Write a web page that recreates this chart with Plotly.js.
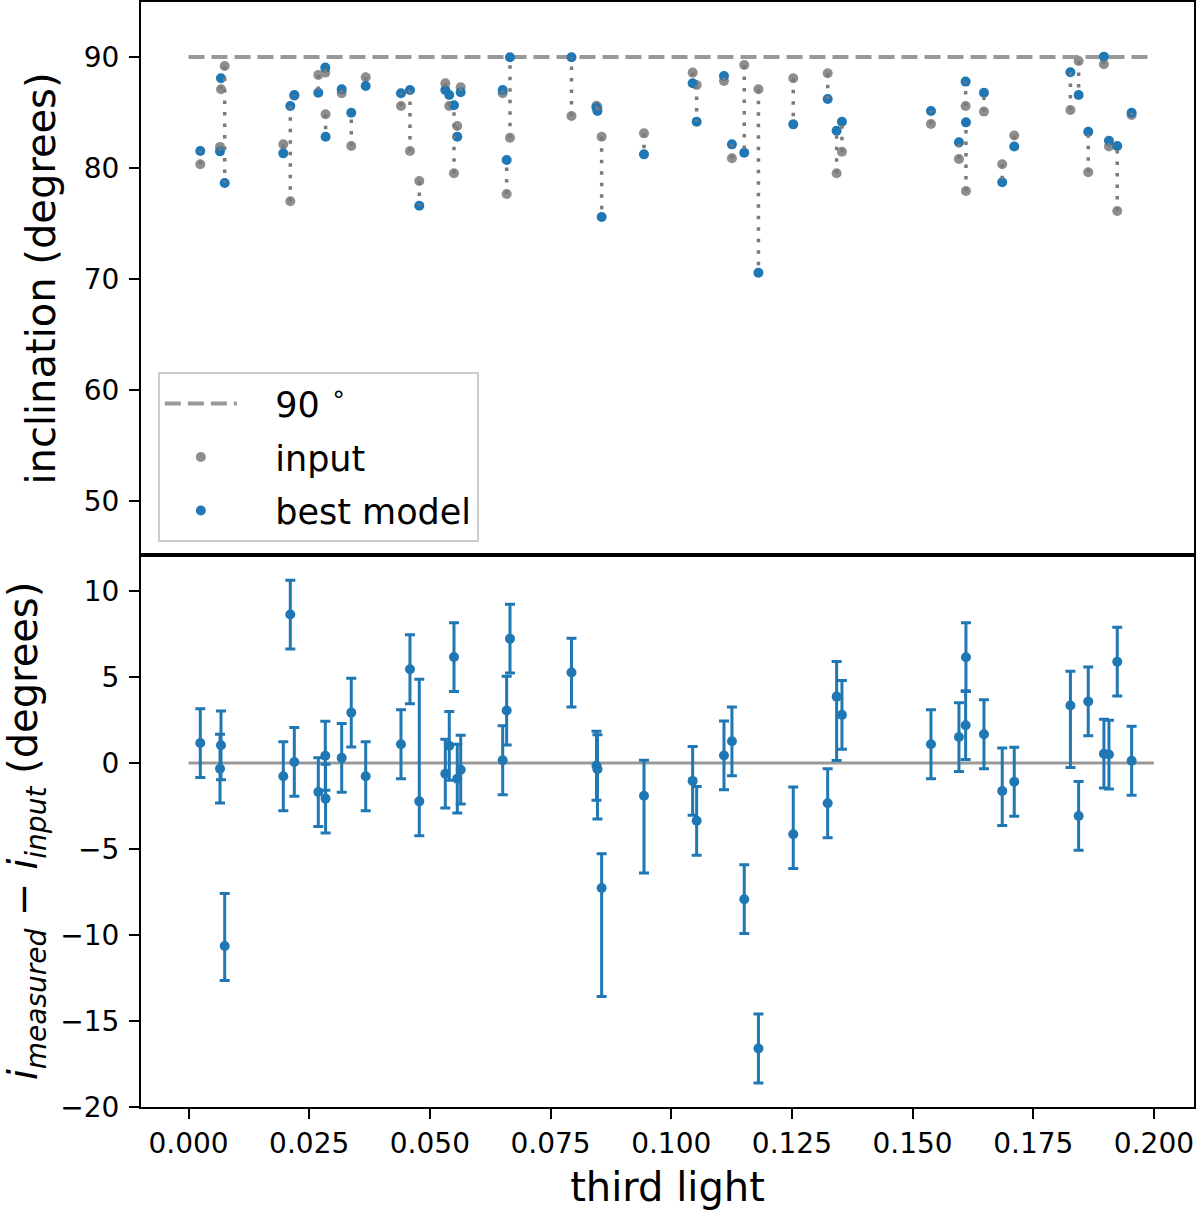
<!DOCTYPE html>
<html>
<head>
<meta charset="utf-8">
<script src="https://cdn.plot.ly/plotly-3.0.1.min.js"></script>
<style>
  html, body { margin: 0; padding: 0; background: #fff; }
  #incl { width: 1200px; height: 1210px; }
</style>
</head>
<body>
<div id="incl"></div>
<script>
/***** third light vs inclination *****/
var thirdLight = [0.00244, 0.00653, 0.00673, 0.00750, 0.01964, 0.02109, 0.02192, 0.02689, 0.02834, 0.02840,
  0.03174, 0.03372, 0.03671, 0.04402, 0.04588, 0.04781, 0.05320, 0.05402, 0.05500, 0.05568,
  0.05639, 0.06509, 0.06591, 0.06660, 0.07934, 0.08452, 0.08472, 0.08559, 0.09436, 0.10444,
  0.10527, 0.11093, 0.11258, 0.11513, 0.11807, 0.12528, 0.13241, 0.13427, 0.13537, 0.15381,
  0.15961, 0.16099, 0.16106, 0.16479, 0.16857, 0.17106, 0.18270, 0.18440, 0.18639, 0.18964,
  0.19068, 0.19240, 0.19538];

var incInput = [80.33, 81.9, 87.09, 89.19, 82.13, 77.0, 86.5, 88.38, 88.59, 84.84,
  86.73, 81.98, 88.17, 85.59, 81.53, 78.83, 87.63, 85.59, 79.52, 83.78,
  87.27, 86.73, 77.66, 82.73, 84.68, 85.6, 85.5, 82.82, 83.12, 88.59,
  87.48, 87.84, 80.87, 89.28, 87.09, 88.08, 88.53, 79.52, 81.47, 83.96,
  80.81, 85.59, 77.93, 85.08, 80.33, 82.92, 85.23, 89.64, 79.61, 89.34,
  81.93, 76.13, 84.77];

var incModel = [81.53, 81.5, 88.08, 78.65, 81.32, 85.59, 86.58, 86.78, 89.04, 82.82,
  87.09, 84.98, 87.39, 86.73, 87.03, 76.6, 87.03, 86.58, 85.65, 82.82,
  86.82, 87.03, 80.72, 89.97, 89.97, 85.45, 85.14, 75.59, 81.23, 87.63,
  84.17, 88.29, 82.13, 81.38, 70.57, 83.93, 86.22, 83.36, 84.17, 85.14,
  82.31, 87.78, 84.11, 86.78, 78.71, 81.93, 88.62, 86.58, 83.27, 90.03,
  82.46, 81.98, 84.98];

var resid = [1.16, -0.33, 1.03, -10.64, -0.77, 8.63, 0.06, -1.69, 0.42, -2.07,
  0.3, 2.93, -0.77, 1.09, 5.45, -2.23, -0.62, 1.0, 6.16, -0.91,
  -0.39, 0.16, 3.05, 7.23, 5.26, -0.16, -0.36, -7.27, -1.9, -1.04,
  -3.36, 0.44, 1.26, -7.92, -16.6, -4.14, -2.34, 3.86, 2.8, 1.09,
  1.51, 2.2, 6.15, 1.67, -1.63, -1.09, 3.34, -3.08, 3.58, 0.54,
  0.49, 5.89, 0.13];

var errHi = [2, 2, 2, 3.05, 2, 2, 2, 2, 2, 2,
  2, 2, 2, 2, 2, 7.1, 2, 2, 2, 2,
  2, 2, 2, 2, 2, 2, 2, 2, 2.06, 2,
  2, 2, 2, 2, 2, 2.74, 2, 2.04, 2, 2,
  2, 2, 2, 2, 2.5, 2, 2, 2, 2, 2,
  2, 2, 2];

var errLo = [2, 2, 2, 2, 2, 2, 2, 2, 2, 2,
  2, 2, 2, 2, 2, 2, 2, 2, 2, 2,
  2, 2, 2, 2, 2, 2, 2.9, 6.3, 4.5, 2,
  2, 2, 2, 2, 2, 2, 2, 3.72, 2, 2,
  2, 2, 2, 2, 2, 2, 3.6, 2, 2, 2,
  2, 2, 2];

var refX = [0, 0.2];
var edgeOn = 90;
var zeroLine = 0;

var xTicks = [0, 0.025, 0.05, 0.075, 0.1, 0.125, 0.15, 0.175, 0.2];

var blue = '#1f77b4';
var grey = '#8e8e8e';
var font = 'DejaVu Sans, Liberation Sans, sans-serif';
var pad = '\u00a0\u00a0\u00a0'; // gap between legend sample and label

// dotted connectors input -> best model, one segment per system
var linkX = [], linkY = [];
for (var i = 0; i < thirdLight.length; i++) {
  linkX.push(thirdLight[i], thirdLight[i], null);
  linkY.push(incInput[i], incModel[i], null);
}

var ref90 = {
  x: refX,
  y: refX.map(function () { return edgeOn; }),
  xaxis: 'x2', yaxis: 'y',
  mode: 'lines',
  name: pad + '90 <sup>∘</sup>',
  legendgroup: 'a',
  line: { color: '#999999', width: 4, dash: '16px,7px' }
};

var input = {
  x: thirdLight, y: incInput,
  xaxis: 'x2', yaxis: 'y',
  mode: 'markers', name: pad + 'input',
  legendgroup: 'b',
  marker: { color: grey, size: 10 }
};

var model = {
  x: thirdLight, y: incModel,
  xaxis: 'x2', yaxis: 'y',
  mode: 'markers', name: pad + 'best model',
  legendgroup: 'c',
  marker: { color: blue, size: 10 }
};

var links = {
  x: linkX, y: linkY,
  xaxis: 'x2', yaxis: 'y',
  mode: 'lines', showlegend: false,
  line: { color: '#7a7a7a', width: 3.5, dash: '3.5px,8px' }
};

var zero = {
  x: refX,
  y: refX.map(function () { return zeroLine; }),
  xaxis: 'x', yaxis: 'y2',
  mode: 'lines', showlegend: false,
  line: { color: '#999999', width: 3 }
};

var diff = {
  x: thirdLight, y: resid,
  xaxis: 'x', yaxis: 'y2',
  mode: 'markers', showlegend: false,
  marker: { color: blue, size: 10 },
  error_y: {
    type: 'data', symmetric: false,
    array: errHi, arrayminus: errLo,
    color: blue, thickness: 3, width: 5
  }
};

var axisStyle = {
  showline: true, mirror: true, linecolor: '#000', linewidth: 2,
  ticks: 'outside', ticklen: 10, tickwidth: 2, tickcolor: '#000',
  showgrid: false, zeroline: false,
  tickfont: { family: font, size: 28, color: '#000' }
};

function ax(extra) {
  return Object.assign({}, axisStyle, extra);
}

var layout = {
  width: 1200, height: 1210,
  margin: { l: 141, r: 6, t: 2, b: 103 },
  paper_bgcolor: '#fff', plot_bgcolor: '#fff',
  font: { family: font, color: '#000' },
  showlegend: true,
  legend: {
    x: 0.016, y: 0.665, xanchor: 'left', yanchor: 'top',
    bgcolor: 'rgba(255,255,255,0.85)', bordercolor: '#cccccc', borderwidth: 2,
    font: { family: font, size: 35, color: '#000' },
    itemwidth: 72, tracegroupgap: 5
  },
  xaxis: ax({
    domain: [0, 1], anchor: 'y2',
    range: [-0.00984, 0.2083],
    tickvals: xTicks, tickformat: '.3f',
    title: { text: 'third light', font: { family: font, size: 40 }, standoff: 16 }
  }),
  xaxis2: ax({
    domain: [0, 1], anchor: 'y', matches: 'x',
    range: [-0.00984, 0.2083],
    showticklabels: false, ticks: ''
  }),
  yaxis: ax({
    domain: [0.4995, 1], anchor: 'x2',
    range: [45.14, 94.95],
    tickvals: [50, 60, 70, 80, 90],
    ticklabelstandoff: 4,
    title: { text: 'inclination (degrees)', font: { family: font, size: 40 }, standoff: 16 }
  }),
  yaxis2: ax({
    domain: [0, 0.4995], anchor: 'x',
    range: [-20, 12.09],
    tickvals: [-20, -15, -10, -5, 0, 5, 10],
    ticklabelstandoff: 4,
    title: {
      text: '<i>i</i><sub><i>measured</i></sub> − <i>i</i><sub><i>input</i></sub> (degrees)',
      font: { family: font, size: 40 }, standoff: 10
    }
  })
};

var config = { staticPlot: true, displayModeBar: false };

var data = [ref90, input, model, links, zero, diff];
Plotly.newPlot('incl', data, layout, config);
</script>
</body>
</html>
